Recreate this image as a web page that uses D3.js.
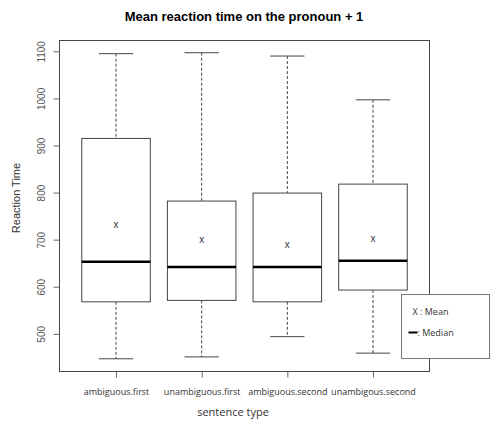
<!DOCTYPE html>
<html>
<head>
<meta charset="utf-8">
<script src="https://cdnjs.cloudflare.com/ajax/libs/d3/7.8.5/d3.min.js"></script>
<style>
  body { margin: 0; background: #fff; }
  svg { display: block; }
</style>
</head>
<body>
<div id="chart"></div>
<script>
const categories = ["ambiguous.first", "unambiguous.first", "ambiguous.second", "unambigous.second"];
const whiskerLow = [447, 451, 494, 459];
const q1 = [568, 571, 568, 593];
const medians = [653, 642, 642, 655];
const q3 = [915, 782, 799, 818];
const whiskerHigh = [1095, 1097, 1090, 997];
const means = [733, 700, 689, 702];
const yTicks = [500, 600, 700, 800, 900, 1000, 1100];

const W = 490, H = 424;
const plot = { left: 59.5, top: 40.5, right: 429.5, bottom: 371.5 };

const svg = d3.select("#chart").append("svg")
  .attr("width", W).attr("height", H);

const x = d3.scaleLinear().domain([0.34, 4.66]).range([plot.left, plot.right]);
const y = d3.scaleLinear().domain([420, 1123]).range([plot.bottom, plot.top]);
const boxW = (x(1) - x(0)) * 0.8;

const data = categories.map((c, i) => ({
  name: c, pos: i + 1,
  lo: whiskerLow[i], q1: q1[i], med: medians[i], q3: q3[i], hi: whiskerHigh[i], mean: means[i]
}));

// title
svg.append("text")
  .attr("x", 244).attr("y", 21)
  .attr("text-anchor", "middle")
  .style("font-family", "Liberation Sans, Arial, sans-serif")
  .style("font-weight", "bold").style("font-size", "13px")
  .attr("fill", "#000")
  .text("Mean reaction time on the pronoun + 1");

// y axis
const yAxis = svg.append("g")
  .attr("transform", `translate(${plot.left},0)`)
  .call(d3.axisLeft(y).tickValues(yTicks).tickFormat(d3.format("d")).tickSize(6).tickSizeOuter(0));
yAxis.select(".domain").remove();
yAxis.selectAll("line").attr("stroke", "#666");
yAxis.selectAll("text")
  .attr("x", 0).attr("dy", 0)
  .attr("transform", d => `translate(-15,0) rotate(-90)`)
  .attr("text-anchor", "middle")
  .style("font-family", "Liberation Sans, Arial, sans-serif")
  .style("font-size", "10px")
  .attr("fill", "#555");

// x axis
const xAxis = svg.append("g")
  .attr("transform", `translate(0,${plot.bottom})`)
  .call(d3.axisBottom(x).tickValues(data.map(d => d.pos)).tickFormat((d, i) => categories[i]).tickSize(6).tickSizeOuter(0));
xAxis.select(".domain").remove();
xAxis.selectAll("line").attr("stroke", "#666");
xAxis.selectAll("text")
  .attr("y", 17)
  .style("font-family", "Open Sans, sans-serif")
  .style("font-size", "9px")
  .attr("fill", "#333");

// axis titles
svg.append("text")
  .attr("transform", `translate(20,${(plot.top + plot.bottom) / 2 - 8}) rotate(-90)`)
  .attr("text-anchor", "middle")
  .style("font-family", "Liberation Sans, Arial, sans-serif")
  .style("font-size", "11px")
  .attr("fill", "#333")
  .text("Reaction Time");

svg.append("text")
  .attr("x", 233).attr("y", 416)
  .attr("text-anchor", "middle")
  .style("font-family", "Open Sans, sans-serif")
  .style("font-size", "11px")
  .attr("fill", "#333")
  .text("sentence type");

// boxes
const g = svg.append("g");
const boxes = g.selectAll("g.box").data(data).enter().append("g").attr("class", "box");

boxes.append("line")
  .attr("x1", d => x(d.pos)).attr("x2", d => x(d.pos))
  .attr("y1", d => y(d.hi)).attr("y2", d => y(d.q3))
  .attr("stroke", "#444").attr("stroke-dasharray", "3,2");
boxes.append("line")
  .attr("x1", d => x(d.pos)).attr("x2", d => x(d.pos))
  .attr("y1", d => y(d.q1)).attr("y2", d => y(d.lo))
  .attr("stroke", "#444").attr("stroke-dasharray", "3,2");
boxes.append("line")
  .attr("x1", d => x(d.pos) - boxW / 4).attr("x2", d => x(d.pos) + boxW / 4)
  .attr("y1", d => y(d.hi)).attr("y2", d => y(d.hi))
  .attr("stroke", "#444");
boxes.append("line")
  .attr("x1", d => x(d.pos) - boxW / 4).attr("x2", d => x(d.pos) + boxW / 4)
  .attr("y1", d => y(d.lo)).attr("y2", d => y(d.lo))
  .attr("stroke", "#444");
boxes.append("rect")
  .attr("x", d => x(d.pos) - boxW / 2)
  .attr("y", d => y(d.q3))
  .attr("width", boxW)
  .attr("height", d => y(d.q1) - y(d.q3))
  .attr("fill", "#fff").attr("stroke", "#444");
boxes.append("line")
  .attr("x1", d => x(d.pos) - boxW / 2).attr("x2", d => x(d.pos) + boxW / 2)
  .attr("y1", d => y(d.med)).attr("y2", d => y(d.med))
  .attr("stroke", "#000").attr("stroke-width", 2.5);
boxes.append("text")
  .attr("x", d => x(d.pos)).attr("y", d => y(d.mean) + 3.5)
  .attr("text-anchor", "middle")
  .style("font-family", "Liberation Sans, Arial, sans-serif")
  .style("font-size", "10px")
  .attr("fill", "#334")
  .text("x");

// frame
svg.append("rect")
  .attr("x", plot.left).attr("y", plot.top)
  .attr("width", plot.right - plot.left).attr("height", plot.bottom - plot.top)
  .attr("fill", "none").attr("stroke", "#444");

// legend
const leg = svg.append("g").attr("transform", "translate(401.5,294.5)");
leg.append("rect")
  .attr("width", 88).attr("height", 64)
  .attr("fill", "#fff").attr("stroke", "#777");
leg.append("text")
  .attr("x", 11).attr("y", 20)
  .style("font-family", "Open Sans, sans-serif").style("font-size", "9px")
  .attr("fill", "#333")
  .text("X : Mean");
leg.append("line")
  .attr("x1", 7).attr("x2", 16).attr("y1", 38).attr("y2", 38)
  .attr("stroke", "#000").attr("stroke-width", 2);
leg.append("text")
  .attr("x", 16).attr("y", 41)
  .style("font-family", "Open Sans, sans-serif").style("font-size", "9px")
  .attr("fill", "#333")
  .text(": Median");
</script>
</body>
</html>
